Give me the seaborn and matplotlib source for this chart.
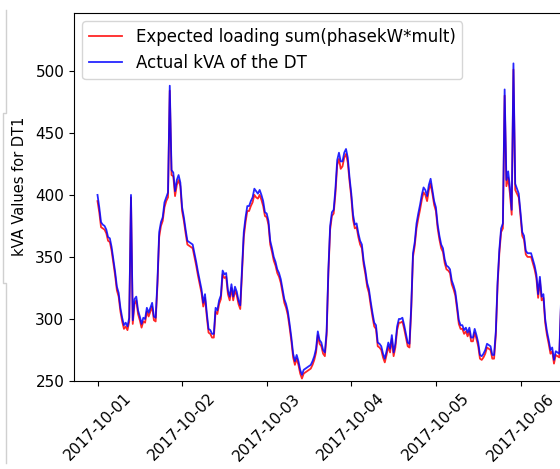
import matplotlib
matplotlib.use("Agg")
import matplotlib.pyplot as plt
import matplotlib.dates as mdates
from matplotlib.lines import Line2D
import seaborn as sns
import pandas as pd
import numpy as np

# ---- data (30-minute readings starting 2017-10-01 00:00) ----
actual_day1 = [400, 390, 378, 376, 375, 372, 366, 365, 358, 348,
               338, 326, 321, 309, 301, 295, 297, 294, 301, 400,
               299, 316, 318, 307, 302, 296, 301, 300, 309, 305,
               309, 313, 302, 301, 330, 370, 378, 382, 394, 398,
               402, 488, 420, 418, 403, 412, 416, 410]
actual_day2 = [390, 382, 372, 363, 362, 361, 360, 353, 346, 338,
               331, 324, 313, 320, 305, 292, 291, 288, 288, 309,
               307, 315, 319, 339, 336, 337, 323, 318, 328, 318,
               326, 322, 315, 311, 340, 370, 382, 391, 391, 395,
               398, 405, 403, 401, 404, 400, 395, 386]
actual_day3 = [385, 379, 363, 357, 350, 346, 340, 337, 332, 324,
               316, 312, 306, 296, 285, 272, 266, 271, 266, 259,
               255, 259, 260, 261, 262, 263, 266, 270, 276, 290,
               283, 281, 275, 273, 290, 340, 375, 386, 388, 405,
               428, 434, 427, 427, 434, 437, 430, 414]
actual_day4 = [401, 384, 376, 377, 369, 363, 360, 347, 339, 329,
               324, 314, 305, 297, 295, 281, 280, 278, 272, 268,
               274, 281, 276, 287, 273, 280, 294, 300, 300, 301,
               295, 288, 281, 280, 310, 353, 362, 377, 385, 392,
               400, 406, 404, 399, 408, 413, 404, 395]
actual_day5 = [390, 376, 367, 360, 357, 348, 343, 342, 340, 331,
               327, 322, 311, 299, 295, 295, 291, 293, 289, 293,
               285, 285, 292, 287, 281, 271, 270, 272, 275, 280,
               279, 278, 271, 271, 290, 330, 356, 373, 377, 485,
               412, 419, 406, 388, 506, 409, 405, 401]
actual_day6 = [386, 370, 367, 355, 353, 353, 353, 348, 343, 336,
               320, 334, 318, 320, 300, 290, 283, 275, 277, 267,
               274, 273, 272, 315, 340]

expected_day1 = [395, 386, 374, 373, 372, 369, 363, 362, 355, 345,
                 335, 323, 318, 306, 298, 292, 294, 291, 298, 398,
                 296, 312, 315, 304, 299, 293, 298, 297, 306, 302,
                 306, 310, 299, 298, 327, 366, 375, 379, 390, 395,
                 398, 484, 416, 415, 399, 408, 412, 407]
expected_day2 = [387, 379, 369, 360, 359, 358, 357, 350, 343, 335,
                 328, 321, 310, 317, 302, 289, 288, 285, 285, 306,
                 304, 312, 316, 336, 333, 334, 320, 315, 325, 315,
                 323, 319, 312, 308, 337, 366, 378, 387, 387, 391,
                 394, 400, 398, 397, 400, 396, 391, 383]
expected_day3 = [382, 376, 360, 354, 347, 343, 337, 334, 329, 321,
                 313, 309, 303, 293, 282, 269, 263, 268, 263, 256,
                 252, 256, 257, 258, 259, 260, 263, 267, 273, 287,
                 280, 278, 272, 270, 287, 337, 372, 383, 385, 401,
                 424, 429, 421, 423, 430, 433, 426, 411]
expected_day4 = [398, 380, 373, 374, 366, 360, 357, 344, 336, 326,
                 321, 311, 302, 294, 292, 278, 277, 275, 269, 265,
                 271, 278, 273, 284, 270, 277, 291, 297, 297, 298,
                 292, 285, 278, 277, 307, 350, 359, 373, 381, 388,
                 396, 402, 400, 395, 404, 409, 401, 392]
expected_day5 = [387, 373, 364, 357, 354, 345, 340, 339, 337, 328,
                 324, 319, 308, 296, 292, 292, 288, 290, 286, 290,
                 282, 282, 289, 284, 278, 268, 267, 269, 272, 277,
                 276, 275, 268, 268, 287, 327, 353, 370, 373, 480,
                 407, 414, 401, 384, 501, 404, 401, 398]
expected_day6 = [383, 367, 364, 352, 350, 350, 350, 345, 340, 333,
                 317, 331, 315, 317, 297, 287, 280, 272, 274, 264,
                 271, 270, 269, 312, 337]

actual = actual_day1 + actual_day2 + actual_day3 + actual_day4 + actual_day5 + actual_day6
expected = (expected_day1 + expected_day2 + expected_day3 + expected_day4
            + expected_day5 + expected_day6)

start = pd.Timestamp("2017-10-01 00:00")
times_actual = pd.date_range(start, periods=len(actual), freq="30min")
times_expected = pd.date_range(start, periods=len(expected), freq="30min")

label_expected = "Expected loading sum(phasekW*mult)"
label_actual = "Actual kVA of the DT"
ylabel = "kVA Values for DT1"
yticks = [250, 300, 350, 400, 450, 500]

# ---- figure ----
W, H = 560, 469
fig = plt.figure(figsize=(W / 100, H / 100), dpi=100)
ax_left, ax_right, ax_top, ax_bottom = 74, 602, 13, 381
ax = fig.add_axes([ax_left / W, (H - ax_bottom) / H,
                   (ax_right - ax_left) / W, (ax_bottom - ax_top) / H])

sns.lineplot(x=times_expected, y=expected, color="red", alpha=0.85,
             linewidth=1.3, label=label_expected, ax=ax)
sns.lineplot(x=times_actual, y=actual, color="blue", alpha=0.85,
             linewidth=1.3, label=label_actual, ax=ax)

day_px = 84.6
tick0_px = 97.5
ax.set_xlim(start - pd.Timedelta(days=(tick0_px - ax_left) / day_px),
            start + pd.Timedelta(days=(ax_right - tick0_px) / day_px))
ax.set_ylim(250, 546.6)
ax.set_yticks(yticks)

ax.xaxis.set_major_locator(mdates.DayLocator())
ax.xaxis.set_major_formatter(mdates.DateFormatter("%Y-%m-%d"))
ax.tick_params(axis="both", labelsize=11)
for lbl in ax.get_xticklabels():
    lbl.set_rotation(45)
    lbl.set_ha("center")

ax.set_xlabel("")
ax.set_ylabel(ylabel, fontsize=10.5)
ax.yaxis.set_label_coords((27 - ax_left) / (ax_right - ax_left), 0.53)

ax.legend(loc="upper left", fontsize=12)

# light notebook frame line at left edge
xs = np.array([6, 6, 3, 3, 6, 6]) / W
ys = 1 - np.array([10, 113, 113, 283, 283, 463]) / H
fig.add_artist(Line2D(xs, ys, color="#d0d0d0", lw=1))

fig.savefig("out.png", dpi=100)
